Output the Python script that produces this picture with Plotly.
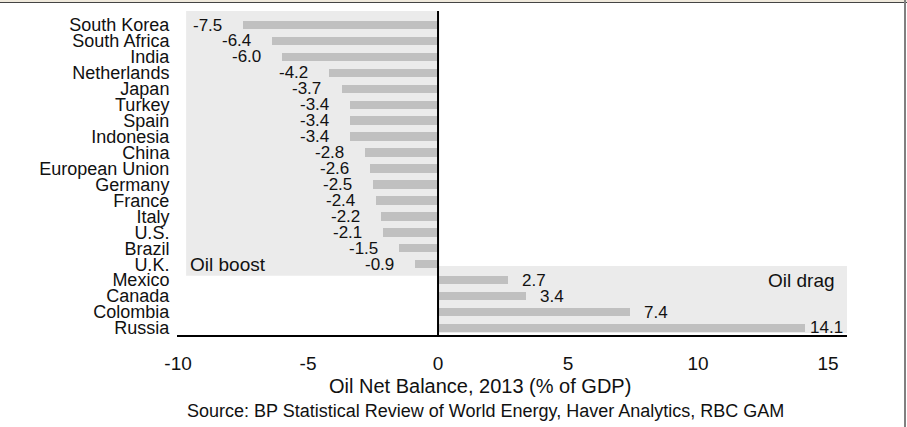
import plotly.graph_objects as go

# Oil net balance by economy, 2013 (% of GDP)
countries = ["South Korea", "South Africa", "India", "Netherlands", "Japan", "Turkey",
             "Spain", "Indonesia", "China", "European Union", "Germany", "France",
             "Italy", "U.S.", "Brazil", "U.K.", "Mexico", "Canada", "Colombia", "Russia"]
balance = [-7.5, -6.4, -6.0, -4.2, -3.7, -3.4, -3.4, -3.4, -2.8, -2.6, -2.5, -2.4,
           -2.2, -2.1, -1.5, -0.9, 2.7, 3.4, 7.4, 14.1]
x_ticks = [-10, -5, 0, 5, 10, 15]

W, H = 907, 427
ML, MR, MT, MB = 177, 60, 11, 92
PW, PH = W - ML - MR, H - MT - MB
FONT = "Liberation Sans, Arial, sans-serif"

XR = [-10.04, 15.73]
ypos = list(range(len(countries)))
YR = [19.44, -0.88]


def px_x(p):
    return (p - ML) / PW


def px_y(p):
    return (H - MB - p) / PH


fig = go.Figure()
fig.add_trace(go.Bar(
    x=balance, y=ypos, orientation="h", width=0.53,
    marker=dict(color="#c0c0c0", line=dict(width=0)),
    hoverinfo="skip", showlegend=False,
))

annotations = []
for v, y, name in zip(balance, ypos, countries):
    if v < 0:
        annotations.append(dict(x=v, y=y, text=f"{v:.1f}", xanchor="right", yanchor="middle",
                                xshift=-19, showarrow=False, font=dict(size=17, color="#111")))
    else:
        shift = 3 if name == "Russia" else 12
        annotations.append(dict(x=v, y=y, text=f"{v:.1f}", xanchor="left", yanchor="middle",
                                xshift=shift, showarrow=False, font=dict(size=17, color="#111")))

n_neg = sum(1 for v in balance if v < 0)
annotations += [
    dict(x=-9.6, y=n_neg - 1, text="Oil boost", xanchor="left", yanchor="middle",
         showarrow=False, font=dict(size=19, color="#111")),
    dict(x=15.35, y=n_neg, text="Oil drag", xanchor="right", yanchor="middle",
         showarrow=False, font=dict(size=19, color="#111")),
    dict(xref="paper", yref="paper", x=px_x(480), y=px_y(386),
         text="Oil Net Balance, 2013 (% of GDP)", xanchor="center", yanchor="middle",
         showarrow=False, font=dict(size=20, color="#111")),
    dict(xref="paper", yref="paper", x=px_x(485), y=px_y(411),
         text="Source: BP Statistical Review of World Energy, Haver Analytics, RBC GAM",
         xanchor="center", yanchor="middle", showarrow=False, font=dict(size=18, color="#111")),
]

shapes = [
    # shaded regions behind the bars
    dict(type="rect", xref="x", yref="y", x0=-9.69, x1=0, y0=-0.88, y1=n_neg - 0.28,
         fillcolor="#ebebeb", line=dict(width=0), layer="below"),
    dict(type="rect", xref="x", yref="y", x0=0, x1=XR[1], y0=n_neg - 0.89, y1=19.31,
         fillcolor="#ebebeb", line=dict(width=0), layer="below"),
    # zero line
    dict(type="line", xref="x", yref="paper", x0=0, x1=0, y0=0, y1=1,
         line=dict(color="black", width=2), layer="above"),
    # frame edges
    dict(type="rect", xref="paper", yref="paper", x0=px_x(0), x1=px_x(W), y0=px_y(0), y1=px_y(2),
         fillcolor="#efe9dc", line=dict(width=0), layer="above"),
    dict(type="line", xref="paper", yref="paper", x0=px_x(0), x1=px_x(W), y0=px_y(2.5), y1=px_y(2.5),
         line=dict(color="#444", width=1), layer="above"),
    dict(type="line", xref="paper", yref="paper", x0=px_x(905), x1=px_x(905), y0=px_y(0), y1=px_y(H),
         line=dict(color="#808080", width=2), layer="above"),
]

fig.update_layout(
    width=W, height=H,
    margin=dict(l=ML, r=MR, t=MT, b=MB, pad=0),
    paper_bgcolor="white", plot_bgcolor="white",
    font=dict(family=FONT, color="#111"),
    bargap=0,
    annotations=annotations,
    shapes=shapes,
    xaxis=dict(range=XR, tickvals=x_ticks, ticktext=[str(t) for t in x_ticks],
               showgrid=False, zeroline=False, showline=True, linecolor="black", linewidth=1.5,
               ticks="outside", ticklen=10, tickcolor="rgba(0,0,0,0)",
               tickfont=dict(size=19, color="#111"), fixedrange=True),
    yaxis=dict(range=YR, tickvals=ypos, ticktext=countries, showgrid=False, zeroline=False,
               showline=False, ticks="outside", ticklen=3, tickcolor="rgba(0,0,0,0)",
               tickfont=dict(size=18, color="#111"), fixedrange=True),
)

fig.write_html("out.html")
